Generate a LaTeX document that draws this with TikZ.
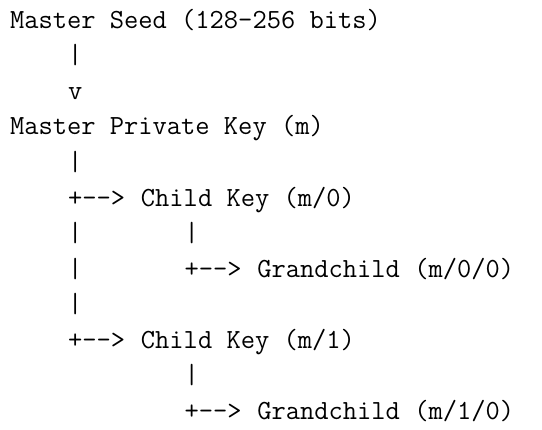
\documentclass[tikz,border=0pt]{standalone}
\usepackage{fontspec}
\begin{document}
\begin{tikzpicture}[x=1pt,y=1pt,
  ln/.style={anchor=base west, inner sep=0pt, outer sep=0pt,
    font=\fontsize{27.7}{33}\selectfont\ttfamily, text=black}]
\useasboundingbox (0,0) rectangle (542,430);
\def\cw{14.55}
\def\xo{10}
\def\yo{401.7}
\def\lh{35.56}
% rows 0..11, columns in characters
\node[ln] (seed)  at ({\xo+0*\cw},{\yo-0*\lh}) {Master Seed (128-256 bits)};
\node[ln] (bara)  at ({\xo+4*\cw},{\yo-1*\lh}) {|};
\node[ln] (va)    at ({\xo+4*\cw},{\yo-2*\lh}) {v};
\node[ln] (mkey)  at ({\xo+0*\cw},{\yo-3*\lh}) {Master Private Key (m)};
\node[ln] (barb)  at ({\xo+4*\cw},{\yo-4*\lh}) {|};
\node[ln] (arra)  at ({\xo+4*\cw},{\yo-5*\lh}) {+-{}-{}>};
\node[ln] (childa) at ({\xo+9*\cw},{\yo-5*\lh}) {Child Key (m/0)};
\node[ln] (barc)  at ({\xo+4*\cw},{\yo-6*\lh}) {|};
\node[ln] (bard)  at ({\xo+12*\cw},{\yo-6*\lh}) {|};
\node[ln] (bare)  at ({\xo+4*\cw},{\yo-7*\lh}) {|};
\node[ln] (arrb)  at ({\xo+12*\cw},{\yo-7*\lh}) {+-{}-{}>};
\node[ln] (gca)   at ({\xo+17*\cw},{\yo-7*\lh}) {Grandchild (m/0/0)};
\node[ln] (barf)  at ({\xo+4*\cw},{\yo-8*\lh}) {|};
\node[ln] (arrc)  at ({\xo+4*\cw},{\yo-9*\lh}) {+-{}-{}>};
\node[ln] (childb) at ({\xo+9*\cw},{\yo-9*\lh}) {Child Key (m/1)};
\node[ln] (barg)  at ({\xo+12*\cw},{\yo-10*\lh}) {|};
\node[ln] (arrd)  at ({\xo+12*\cw},{\yo-11*\lh}) {+-{}-{}>};
\node[ln] (gcb)   at ({\xo+17*\cw},{\yo-11*\lh}) {Grandchild (m/1/0)};
\end{tikzpicture}
\end{document}
